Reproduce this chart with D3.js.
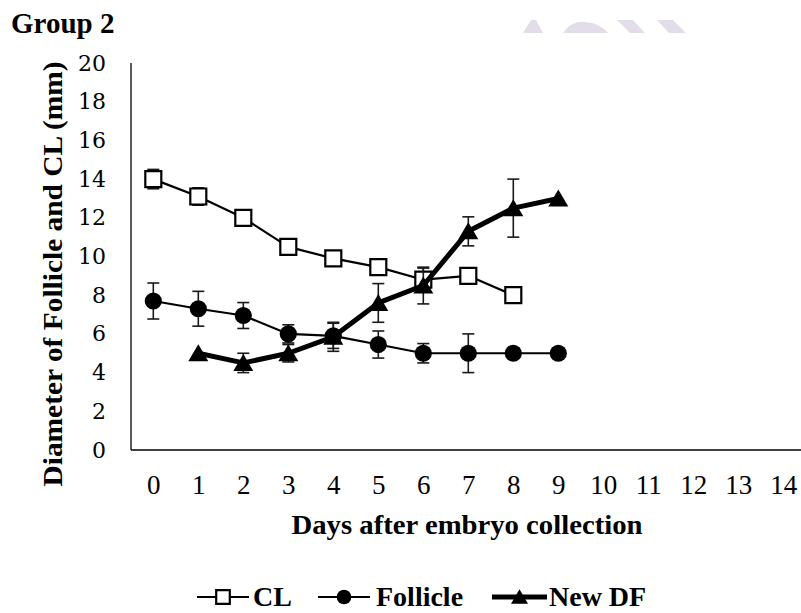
<!DOCTYPE html>
<html>
<head>
<meta charset="utf-8">
<script src="https://cdn.jsdelivr.net/npm/d3@7"></script>
<style>
  body { margin: 0; background: #fff; }
  svg { display: block; }
  .serif { font-family: "Liberation Serif", "DejaVu Serif", serif; }
  .num { font-family: "DejaVu Serif", "Liberation Serif", serif; }
</style>
</head>
<body>
<svg id="chart" width="801" height="613"></svg>
<script>
// Day categories on the x axis and y tick values
const dayLabels = d3.range(0, 15);
const yTicks = d3.range(0, 21, 2);

// Corpus luteum diameter (mm), days 0-8
const clDays = [0, 1, 2, 3, 4, 5, 6, 7, 8];
const clMean = [14.0, 13.1, 12.0, 10.5, 9.9, 9.45, 8.8, 9.0, 8.0];
const clErr  = [0.5, 0.45, 0.25, 0.2, 0.2, 0.2, 0.6, 0.3, 0.2];

// Largest follicle diameter (mm), days 0-9
const follDays = [0, 1, 2, 3, 4, 5, 6, 7, 8, 9];
const follMean = [7.7, 7.3, 6.95, 6.0, 5.9, 5.45, 5.0, 5.0, 5.0, 5.0];
const follErr  = [0.93, 0.9, 0.67, 0.47, 0.65, 0.7, 0.5, 1.0, 0, 0];

// New dominant follicle diameter (mm), days 1-9
const dfDays = [1, 2, 3, 4, 5, 6, 7, 8, 9];
const dfMean = [5.0, 4.5, 5.0, 5.85, 7.6, 8.5, 11.3, 12.5, 13.0];
const dfErr  = [0, 0.5, 0.45, 0.75, 1.0, 0.95, 0.75, 1.5, 0];

const svg = d3.select("#chart");

// faint background mark along the top edge
const wm = svg.append("g").attr("fill", "#e3dde9");
wm.append("path").attr("d", "M523,33 L531,20 L536,20 L543,33 Z");
wm.append("path").attr("d", "M563,33 Q572,20 585,22 Q600,23 608,33 Z");
wm.append("path").attr("d", "M617,20 L633,20 L645,33 L630,33 Z");
wm.append("path").attr("d", "M657,20 L673,20 L686,33 L669,33 Z");

const x = d3.scalePoint().domain(dayLabels).range([153.3, 783.3]);
const y = d3.scaleLinear().domain([0, 20]).range([450, 63]);

// Title
svg.append("text")
  .attr("class", "serif")
  .attr("x", 11).attr("y", 33)
  .style("font-weight", "bold").style("font-size", "29px")
  .attr("fill", "#000")
  .text("Group 2");

// Axes
const yAxis = svg.append("g").attr("transform", "translate(131,0)")
  .call(d3.axisLeft(y).tickValues(yTicks).tickSize(0).tickPadding(25));
yAxis.attr("font-family", null);
yAxis.select(".domain").remove();
yAxis.selectAll("text")
  .attr("class", "num").style("font-size", "22px").attr("fill", "#000");

const xAxis = svg.append("g").attr("transform", "translate(0,450)")
  .call(d3.axisBottom(x).tickSize(0).tickPadding(25));
xAxis.attr("font-family", null);
xAxis.select(".domain").remove();
xAxis.selectAll("text")
  .attr("class", "serif").style("font-size", "27px").attr("fill", "#000");

svg.append("line")
  .attr("x1", 131).attr("x2", 131).attr("y1", y(20)).attr("y2", y(0))
  .attr("stroke", "#000").attr("stroke-width", 1.3);
svg.append("line")
  .attr("x1", 131).attr("x2", 806).attr("y1", y(0)).attr("y2", y(0))
  .attr("stroke", "#000").attr("stroke-width", 1.3);

// Axis titles
svg.append("text")
  .attr("class", "serif")
  .attr("x", 467).attr("y", 534)
  .attr("text-anchor", "middle")
  .style("font-weight", "bold").style("font-size", "28px")
  .attr("fill", "#000")
  .attr("textLength", 351).attr("lengthAdjust", "spacingAndGlyphs")
  .text("Days after embryo collection");

svg.append("text")
  .attr("class", "serif")
  .attr("transform", "translate(62,274) rotate(-90)")
  .attr("text-anchor", "middle")
  .style("font-weight", "bold").style("font-size", "28px")
  .attr("fill", "#000")
  .attr("textLength", 425).attr("lengthAdjust", "spacingAndGlyphs")
  .text("Diameter of Follicle and CL (mm)");

// Series definitions built from the arrays above
const series = [
  { name: "CL", days: clDays, mean: clMean, err: clErr, lw: 2.2, marker: "square" },
  { name: "Follicle", days: follDays, mean: follMean, err: follErr, lw: 2.2, marker: "circle" },
  { name: "New DF", days: dfDays, mean: dfMean, err: dfErr, lw: 5, marker: "triangle" }
];

const symbolPath = {
  square: d3.symbol().type(d3.symbolSquare).size(16 * 16)(),
  circle: d3.symbol().type(d3.symbolCircle).size(Math.PI * 8.6 * 8.6)(),
  triangle: "M0,-9 L10,8 L-10,8 Z"
};

function drawMarker(g, type, cx, cy, scale) {
  const s = scale || 1;
  const p = g.append("path")
    .attr("d", symbolPath[type])
    .attr("transform", `translate(${cx},${cy}) scale(${s})`);
  if (type === "square") {
    p.attr("fill", "#fff").attr("stroke", "#000").attr("stroke-width", 2.2 / s);
  } else {
    p.attr("fill", "#000");
  }
}

const line = d3.line().x(d => x(d[0])).y(d => y(d[1]));

series.forEach(s => {
  const g = svg.append("g");
  const pts = s.days.map((d, i) => [d, s.mean[i], s.err[i]]);

  // error bars (mean ± SEM)
  const eb = g.append("g").attr("stroke", "#1a1a1a").attr("stroke-width", 1.6);
  pts.filter(p => p[2] > 0).forEach(p => {
    const cx = x(p[0]);
    const top = y(p[1] + p[2]), bot = y(p[1] - p[2]);
    eb.append("line").attr("x1", cx).attr("x2", cx).attr("y1", top).attr("y2", bot);
    eb.append("line").attr("x1", cx - 6).attr("x2", cx + 6).attr("y1", top).attr("y2", top);
    eb.append("line").attr("x1", cx - 6).attr("x2", cx + 6).attr("y1", bot).attr("y2", bot);
  });

  g.append("path")
    .datum(pts)
    .attr("d", line)
    .attr("fill", "none")
    .attr("stroke", "#000")
    .attr("stroke-width", s.lw)
    .attr("stroke-linejoin", "round");

  pts.forEach(p => drawMarker(g, s.marker, x(p[0]), y(p[1])));
});

// Legend
const legendY = 597;
const legendItems = [
  { s: series[0], x0: 197, x1: 249, tx: 253 },
  { s: series[1], x0: 318, x1: 370, tx: 376 },
  { s: series[2], x0: 492, x1: 547, tx: 549 }
];
const lg = svg.append("g");
legendItems.forEach(it => {
  lg.append("line")
    .attr("x1", it.x0).attr("x2", it.x1)
    .attr("y1", legendY).attr("y2", legendY)
    .attr("stroke", "#000").attr("stroke-width", it.s.lw);
  drawMarker(lg, it.s.marker, (it.x0 + it.x1) / 2, legendY, 0.85);
  lg.append("text")
    .attr("class", "serif")
    .attr("x", it.tx).attr("y", legendY + 9)
    .style("font-weight", "bold").style("font-size", "28px")
    .attr("fill", "#000")
    .text(it.s.name);
});
</script>
</body>
</html>
